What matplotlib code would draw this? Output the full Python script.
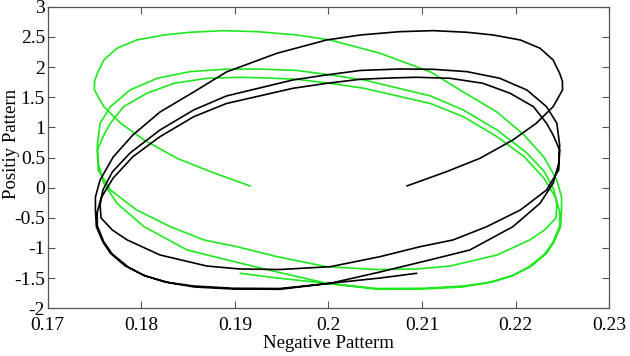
import matplotlib.pyplot as plt

# black trajectory (three loops, start near 0.2085, 0)
neg_black = [
    0.2084, 0.2126, 0.2162, 0.2197, 0.2222, 0.2240, 0.2245, 0.2250, 0.2250, 0.2247,
    0.2240, 0.2226, 0.2205, 0.2176, 0.2148, 0.2112, 0.2076, 0.2034, 0.1998, 0.1945,
    0.1891, 0.1856, 0.1820, 0.1791, 0.1770, 0.1756, 0.1751, 0.1751, 0.1752, 0.1759,
    0.1767, 0.1783, 0.1802, 0.1825, 0.1856, 0.1898, 0.1948, 0.2002, 0.2055, 0.2108,
    0.2151, 0.2197, 0.2226, 0.2240, 0.2246, 0.2247,
    0.2244, 0.2233, 0.2212, 0.2183, 0.2148, 0.2112, 0.2076, 0.2034, 0.1998, 0.1962,
    0.1891, 0.1856, 0.1820, 0.1788, 0.1769, 0.1759, 0.1756,
    0.1757, 0.1769, 0.1785, 0.1820, 0.1870, 0.1905, 0.1948, 0.2002, 0.2055, 0.2098,
    0.2133, 0.2169, 0.2205, 0.2233, 0.2246, 0.2247,
    0.2240, 0.2233, 0.2219, 0.2194, 0.2165, 0.2130, 0.2094, 0.2066, 0.2034, 0.1998,
    0.1962, 0.1891, 0.1856, 0.1820, 0.1791, 0.1770, 0.1757, 0.1753,
    0.1753, 0.1760, 0.1769, 0.1786, 0.1804, 0.1831, 0.1857, 0.1898, 0.1948, 0.2002,
    0.2055, 0.2094,
]
pos_black = [
    0.03, 0.265, 0.488, 0.791, 1.068, 1.343, 1.480, 1.620, 1.760, 1.897,
    2.118, 2.312, 2.449, 2.532, 2.577, 2.604, 2.587, 2.532, 2.449, 2.229,
    1.919, 1.587, 1.255, 0.874, 0.509, 0.128, -0.154, -0.370, -0.647, -0.900,
    -1.088, -1.299, -1.448, -1.564, -1.630, -1.668, -1.672, -1.585, -1.398, -1.199,
    -1.033, -0.647, -0.259, 0.073, 0.405, 0.708,
    1.068, 1.343, 1.620, 1.814, 1.924, 1.963, 1.968, 1.944, 1.870, 1.786,
    1.521, 1.289, 0.957, 0.575, 0.260, -0.038, -0.287,
    -0.502, -0.701, -0.867, -1.116, -1.299, -1.348, -1.357, -1.310, -1.144, -0.978,
    -0.867, -0.647, -0.370, -0.038, 0.294, 0.625,
    0.874, 1.068, 1.343, 1.566, 1.731, 1.814, 1.831, 1.819, 1.798, 1.730,
    1.648, 1.396, 1.177, 0.846, 0.514, 0.161, -0.171, -0.403,
    -0.635, -0.900, -1.100, -1.315, -1.464, -1.580, -1.647, -1.680, -1.685, -1.585,
    -1.498, -1.420,
]

# green trajectory (the mirror image of the black one about x = 0.2)
neg_green = [
    0.1916, 0.1874, 0.1838, 0.1803, 0.1778, 0.1760, 0.1755, 0.1750, 0.1750, 0.1753,
    0.1760, 0.1774, 0.1795, 0.1824, 0.1852, 0.1888, 0.1924, 0.1966, 0.2002, 0.2055,
    0.2109, 0.2144, 0.2180, 0.2209, 0.2230, 0.2244, 0.2249, 0.2249, 0.2248, 0.2241,
    0.2233, 0.2217, 0.2198, 0.2175, 0.2144, 0.2102, 0.2052, 0.1998, 0.1945, 0.1892,
    0.1849, 0.1803, 0.1774, 0.1760, 0.1754, 0.1753,
    0.1756, 0.1767, 0.1788, 0.1817, 0.1852, 0.1888, 0.1924, 0.1966, 0.2002, 0.2038,
    0.2109, 0.2144, 0.2180, 0.2212, 0.2231, 0.2241, 0.2244,
    0.2243, 0.2231, 0.2215, 0.2180, 0.2130, 0.2095, 0.2052, 0.1998, 0.1945, 0.1902,
    0.1867, 0.1831, 0.1795, 0.1767, 0.1754, 0.1753,
    0.1760, 0.1767, 0.1781, 0.1806, 0.1835, 0.1870, 0.1906, 0.1934, 0.1966, 0.2002,
    0.2038, 0.2109, 0.2144, 0.2180, 0.2209, 0.2230, 0.2243, 0.2247,
    0.2247, 0.2240, 0.2231, 0.2214, 0.2196, 0.2169, 0.2143, 0.2102, 0.2052, 0.1998,
    0.1945, 0.1906,
]
pos_green = list(pos_black)

xticks = [0.17, 0.18, 0.19, 0.2, 0.21, 0.22, 0.23]
xtick_labels = ["0.17", "0.18", "0.19", "0.2", "0.21", "0.22", "0.23"]
yticks = [-2, -1.5, -1, -0.5, 0, 0.5, 1, 1.5, 2, 2.5, 3]
ytick_labels = ["-2", "-1.5", "-1", "-0.5", "0", "0.5", "1", "1.5", "2", "2.5", "3"]

plt.rcParams["font.family"] = ["Liberation Serif", "DejaVu Serif"]

fig = plt.figure(figsize=(6.3, 3.56), dpi=100)
ax = fig.add_axes([0.0757, 0.134, 0.8914, 0.847])

ax.plot(neg_green, pos_green, color="#1fe81f", lw=1.2)
ax.plot(neg_black, pos_black, color="black", lw=1.2)

ax.set_xlim(0.17, 0.23)
ax.set_ylim(-2, 3)
ax.set_xticks(xticks)
ax.set_xticklabels(xtick_labels)
ax.set_yticks(yticks)
ax.set_yticklabels(ytick_labels)
ax.tick_params(direction="in", top=True, right=True, length=5, width=0.8,
               color="#555555", labelsize=14)
ax.tick_params(axis="x", pad=6.5)
ax.tick_params(axis="y", pad=2)
for side in ax.spines.values():
    side.set_color("#555555")
    side.set_linewidth(0.9)

ax.set_xlabel("Negative Patterm", fontsize=13.5, labelpad=0.5)
ax.set_ylabel("Positiy Pattern", fontsize=13.5)
ax.yaxis.set_label_coords(-0.049, 0.545)

fig.savefig("out.png", dpi=100)
